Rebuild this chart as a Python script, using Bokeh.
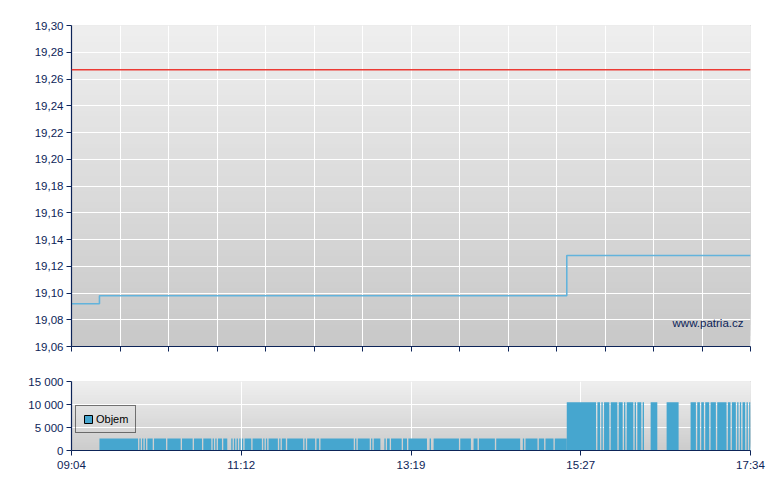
import numpy as np
from bokeh.plotting import figure
from bokeh.layouts import column
from bokeh.models import (FixedTicker, CustomJSTickFormatter, Label, Legend,
                          LegendItem, Range1d, Span)
from bokeh.embed import file_html
from bokeh.resources import INLINE

# ---------------- data ----------------
session_minutes = 510                      # 09:04 .. 17:34
x_tick_labels = ["09:04", "11:12", "13:19", "15:27", "17:34"]
price_y_ticks = [19.06, 19.08, 19.10, 19.12, 19.14, 19.16, 19.18,
                 19.20, 19.22, 19.24, 19.26, 19.28, 19.30]
vol_y_ticks = [0, 5000, 10000, 15000]

ref_price = 19.267                         # red reference line
price_step_min = [0, 21, 372, 510]         # minutes after 09:04
price_step_val = [19.092, 19.098, 19.128, 19.128]

# volume: runs of consecutive traded minutes (minutes after 09:04, inclusive)
vol_run_from = [21, 51, 53, 55, 57, 62, 72, 83, 92, 99, 106, 108, 110, 114,
                120, 122, 124, 126, 128, 130, 136, 144, 146, 148, 156, 158,
                162, 175, 177, 184, 187, 213, 215, 225, 227, 235, 237, 240,
                249, 253, 269, 272, 292, 302, 306, 319, 339, 341, 351, 356,
                363,
                372, 395, 398, 400, 405, 411, 415, 417, 423, 425, 429, 435,
                447, 465, 470, 473, 476, 480, 485, 493, 496, 500, 502, 504,
                507, 509]
vol_run_to = [49, 51, 53, 55, 60, 70, 81, 90, 97, 104, 106, 108, 112, 116,
              120, 122, 124, 126, 128, 134, 142, 144, 146, 154, 156, 160,
              173, 175, 182, 185, 211, 213, 223, 225, 231, 235, 238, 247,
              251, 266, 269, 290, 299, 304, 317, 336, 339, 349, 354, 361,
              371,
              393, 396, 398, 403, 409, 413, 415, 421, 423, 427, 429, 439,
              455, 468, 471, 474, 478, 483, 491, 494, 498, 500, 502, 505,
              507, 509]
vol_run_value = [2600] * 51 + [10500] * 26

# ---------------- style ----------------
NAVY = "#0d2458"
BAR = "#46a6cf"
FONT = "Liberation Sans"


def gray_hex(g):
    g = int(round(g))
    return "#%02x%02x%02x" % (g, g, g)


def add_gradient(p, y0, y1, g_top, g_bottom, n=60):
    ys = np.linspace(y0, y1, n, endpoint=False)
    t = (ys - y0) / (y1 - y0)
    cols = [gray_hex(g_bottom + (g_top - g_bottom) * ti) for ti in t]
    p.quad(left=p.x_range.start, right=p.x_range.end, bottom=ys, top=y1,
           fill_color=cols, line_color=None, level="image")


def style_axes(p):
    for ax in (p.xaxis[0], p.yaxis[0]):
        ax.axis_line_color = NAVY
        ax.axis_line_width = 1.2
        ax.major_tick_line_color = NAVY
        ax.major_tick_in = 0
        ax.major_tick_out = 5
        ax.minor_tick_line_color = None
        ax.major_label_text_color = NAVY
        ax.major_label_text_font = FONT
        ax.major_label_text_font_size = "11.5px"
        ax.major_label_standoff = 3
    for g in (p.xgrid[0], p.ygrid[0]):
        g.grid_line_color = "white"
        g.grid_line_width = 1
        g.grid_line_alpha = 1
    p.outline_line_color = None


# ---------------- price chart ----------------
p1 = figure(frame_width=679, frame_height=321, output_backend="svg",
            toolbar_location=None, x_range=Range1d(0, session_minutes),
            y_range=Range1d(price_y_ticks[0], price_y_ticks[-1]),
            min_border_left=71, min_border_right=18, min_border_top=25,
            min_border_bottom=20)
add_gradient(p1, price_y_ticks[0], price_y_ticks[-1], 239, 200)
style_axes(p1)
p1.xaxis.ticker = FixedTicker(ticks=list(np.linspace(0, session_minutes, 15)))
p1.xaxis.formatter = CustomJSTickFormatter(code="return '';")
p1.yaxis.ticker = FixedTicker(ticks=price_y_ticks)
p1.yaxis.formatter = CustomJSTickFormatter(
    code="return tick.toFixed(2).replace('.', ',');")

p1.add_layout(Span(location=ref_price, dimension="width",
                   line_color="#ec3a34", line_width=1.5))
p1.step(price_step_min, price_step_val, mode="after",
        line_color="#62b3dc", line_width=1.6)

p1.add_layout(Label(x=session_minutes, y=19.0775, x_offset=-7,
                    text="www.patria.cz", text_align="right",
                    text_baseline="middle", text_font=FONT,
                    text_font_size="11.5px", text_color=NAVY))

# ---------------- volume chart ----------------
p2 = figure(frame_width=679, frame_height=69, output_backend="svg",
            toolbar_location=None, x_range=Range1d(0, session_minutes),
            y_range=Range1d(vol_y_ticks[0], vol_y_ticks[-1]),
            min_border_left=71, min_border_right=18, min_border_top=15,
            min_border_bottom=25)
add_gradient(p2, vol_y_ticks[0], vol_y_ticks[-1], 239, 204)
style_axes(p2)
x_ticks = list(np.linspace(0, session_minutes, len(x_tick_labels)))
p2.xaxis.ticker = FixedTicker(ticks=x_ticks)
p2.xaxis.major_label_overrides = {t: lab for t, lab in zip(x_ticks, x_tick_labels)}
p2.yaxis.ticker = FixedTicker(ticks=vol_y_ticks)
p2.yaxis.formatter = CustomJSTickFormatter(
    code="return Math.round(tick).toString().replace(/\\B(?=(\\d{3})+(?!\\d))/g, ' ');")

left = np.array(vol_run_from, dtype=float)
right = np.array(vol_run_to, dtype=float) + 1
p2.quad(left=left, right=right, bottom=0, top=vol_run_value,
        fill_color=BAR, line_color=None)

# legend swatch: a renderer whose single row is NaN (nothing drawn in the plot)
legend_r = p2.quad(left=[np.nan], right=[np.nan], bottom=[np.nan], top=[np.nan],
                   fill_color=BAR, line_color="black", line_width=1)
legend = Legend(items=[LegendItem(label="Objem", renderers=[legend_r], index=0)],
                location=(4, 17), orientation="vertical",
                border_line_color="black", border_line_width=1,
                background_fill_alpha=0, padding=7, margin=0, spacing=0,
                glyph_width=10, glyph_height=10, label_height=12,
                label_standoff=3, label_text_font=FONT,
                label_text_font_size="11px", label_text_color="black")
p2.add_layout(legend)

layout = column(p1, p2, spacing=0)
open("out.html", "w").write(file_html(layout, INLINE))
